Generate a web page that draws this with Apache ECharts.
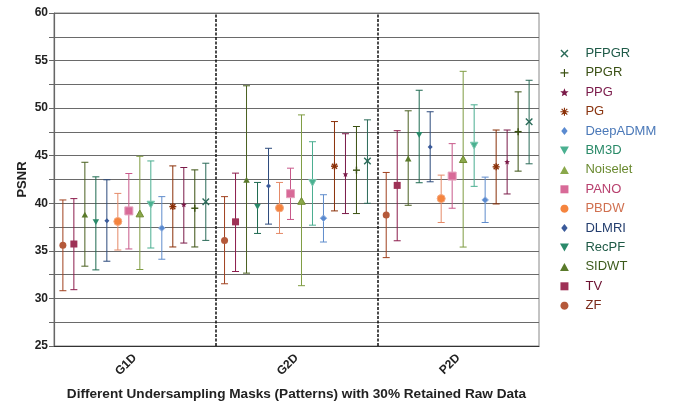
<!DOCTYPE html>
<html><head><meta charset="utf-8">
<script src="https://cdn.jsdelivr.net/npm/echarts@6/dist/echarts.min.js"></script>
<style>html,body{margin:0;padding:0;background:#fff}#c{width:675px;height:402px}</style>
</head><body><div id="c"></div>
<script>
// ---------- DATA ----------
const categories = ['G1D', 'G2D', 'P2D'];
const methods = ['ZF','TV','SIDWT','RecPF','DLMRI','PBDW','PANO','Noiselet','BM3D','DeepADMM','PG','PPG','PPGR','PFPGR'];
const legendOrder = ['PFPGR','PPGR','PPG','PG','DeepADMM','BM3D','Noiselet','PANO','PBDW','DLMRI','RecPF','SIDWT','TV','ZF'];
const yTicks = [25, 30, 35, 40, 45, 50, 55, 60];

const g1dMean = [35.58,35.72,38.78,38.05,38.16,38.09,39.20,38.89,39.90,37.39,39.65,39.83,39.48,40.17];
const g1dLow  = [30.81,30.92,33.39,33.00,33.91,35.09,35.20,33.04,35.30,34.12,35.41,35.82,35.41,36.10];
const g1dHigh = [40.35,40.49,44.31,42.78,42.47,41.04,43.13,44.94,44.45,40.70,43.93,43.76,43.51,44.21];

const g2dMean = [36.10,38.05,42.44,39.65,41.81,39.51,41.01,40.21,42.19,38.43,43.90,43.03,43.48,44.45];
const g2dLow  = [31.54,32.83,32.66,36.83,37.81,36.83,38.30,31.34,37.70,35.93,39.20,38.92,38.92,40.00];
const g2dHigh = [40.70,43.17,52.35,42.19,45.78,42.19,43.69,49.29,46.47,40.90,48.59,47.31,48.07,48.77];

const p2dMean = [38.78,41.88,44.67,47.21,45.92,40.49,42.86,44.60,46.10,40.35,43.83,44.32,47.53,48.57];
const p2dLow  = [34.29,36.06,39.79,42.16,42.26,37.98,39.48,35.40,41.78,37.98,39.93,40.98,43.38,44.15];
const p2dHigh = [43.24,47.63,49.72,51.88,49.62,42.96,46.27,53.87,50.35,42.75,47.70,47.70,51.71,52.93];

// ---------- STYLE ----------
const lineColors   = ['#a0401e','#8c1c4c','#4a6020','#1e6a50','#2c4a7c','#e58a68','#c8588a','#7f9c42','#4aae90','#5f8ccc','#8a3008','#7a1a48','#3a5010','#2a6a58'];
const markerColors = ['#b5593a','#9e3156','#5a7a2a','#2a8a6a','#3a5a9a','#f5843e','#d86a98','#8aa84a','#4ab090','#5a8ad0','#8a3008','#7a1a48','#3a5010','#2a6a58'];
const markerBorder = [null,null,null,null,null,'#f4a880','#e4a0bc','#6f8a30','#7cc8b0','#8fb0e0',null,null,null,null];
const textColors   = ['#7a2a1a','#6b1030','#3c5a1c','#1f5a46','#243e6e','#d07050','#b8406e','#6a8a30','#2a8a68','#4a78b8','#8a3510','#7a1a4a','#3a5014','#1f5a48'];
const shapes = ['circle','square','triUp','triDown','diamond','circle','square','triUp','triDown','diamond','asterisk','star','plus','cross'];
const sizes  = [7,7,6.5,6.5,5,8,8,7.5,7.5,6.5,7,6,7,6.5];

const meanArr = [g1dMean, g2dMean, p2dMean];
const lowArr  = [g1dLow, g2dLow, p2dLow];
const highArr = [g1dHigh, g2dHigh, p2dHigh];

function starPts(cx, cy, R, r) {
  const p = [];
  for (let k = 0; k < 10; k++) {
    const a = -Math.PI / 2 + k * Math.PI / 5;
    const rr = k % 2 ? r : R;
    p.push([cx + rr * Math.cos(a), cy + rr * Math.sin(a)]);
  }
  return p;
}

function markerEls(shape, x, y, s, fill, stroke) {
  const h = s / 2;
  const st = { fill: fill, stroke: stroke || fill, lineWidth: stroke ? 1 : 0 };
  const ls = { stroke: fill, lineWidth: 1.4 };
  switch (shape) {
    case 'circle': return [{ type: 'circle', shape: { cx: x, cy: y, r: h }, style: st }];
    case 'square': return [{ type: 'rect', shape: { x: x - h, y: y - h, width: s, height: s }, style: st }];
    case 'triUp': return [{ type: 'polygon', shape: { points: [[x, y - h], [x + h, y + h * 0.8], [x - h, y + h * 0.8]] }, style: st }];
    case 'triDown': return [{ type: 'polygon', shape: { points: [[x - h, y - h * 0.8], [x + h, y - h * 0.8], [x, y + h]] }, style: st }];
    case 'diamond': return [{ type: 'polygon', shape: { points: [[x, y - h], [x + h, y], [x, y + h], [x - h, y]] }, style: st }];
    case 'star': return [{ type: 'polygon', shape: { points: starPts(x, y, h, h * 0.45) }, style: st }];
    case 'plus': return [
      { type: 'line', shape: { x1: x - h, y1: y, x2: x + h, y2: y }, style: ls },
      { type: 'line', shape: { x1: x, y1: y - h, x2: x, y2: y + h }, style: ls }];
    case 'cross': return [
      { type: 'line', shape: { x1: x - h, y1: y - h, x2: x + h, y2: y + h }, style: ls },
      { type: 'line', shape: { x1: x - h, y1: y + h, x2: x + h, y2: y - h }, style: ls }];
    case 'asterisk': {
      const d = h * 0.72;
      return [
        { type: 'line', shape: { x1: x - h, y1: y, x2: x + h, y2: y }, style: ls },
        { type: 'line', shape: { x1: x, y1: y - h, x2: x, y2: y + h }, style: ls },
        { type: 'line', shape: { x1: x - d, y1: y - d, x2: x + d, y2: y + d }, style: ls },
        { type: 'line', shape: { x1: x - d, y1: y + d, x2: x + d, y2: y - d }, style: ls }];
    }
  }
  return [];
}

// legend icon paths (filled polygons, aspect kept)
function polyPath(pts) { return pts.map((p, k) => (k ? 'L' : 'M') + p[0].toFixed(2) + ',' + p[1].toFixed(2)).join('') + 'Z'; }
function rot(pts, a) { return pts.map(p => { const dx = p[0] - 5, dy = p[1] - 5; return [5 + dx * Math.cos(a) - dy * Math.sin(a), 5 + dx * Math.sin(a) + dy * Math.cos(a)]; }); }
const plusPts = [[4.3,0],[5.7,0],[5.7,4.3],[10,4.3],[10,5.7],[5.7,5.7],[5.7,10],[4.3,10],[4.3,5.7],[0,5.7],[0,4.3],[4.3,4.3]];
const circlePts = []; for (let k = 0; k < 32; k++) { const a = k * Math.PI / 16; circlePts.push([5 + 5 * Math.cos(a), 5 + 5 * Math.sin(a)]); }
const iconPaths = {
  circle: 'path://' + polyPath(circlePts),
  square: 'path://M0,0L10,0L10,10L0,10Z',
  triUp: 'path://M5,0L10,9L0,9Z',
  triDown: 'path://M0,0L10,0L5,9Z',
  diamond: 'path://M5,0L9,5L5,10L1,5Z',
  star: 'path://' + polyPath(starPts(5, 5, 5, 2.2)),
  plus: 'path://' + polyPath(plusPts),
  cross: 'path://' + polyPath(rot(plusPts, Math.PI / 4)),
  asterisk: 'path://' + polyPath(plusPts) + polyPath(rot(plusPts, Math.PI / 4))
};

const series = methods.map((name, i) => ({
  name: name,
  type: 'custom',
  xAxisIndex: 0,
  yAxisIndex: 0,
  itemStyle: { color: markerColors[i] },
  encode: { x: 0, y: [1, 2, 3] },
  data: categories.map((c, k) => [k, meanArr[k][i], lowArr[k][i], highArr[k][i]]),
  z: 10 + i,
  renderItem: function (params, api) {
    const cat = api.value(0);
    const pm = api.coord([cat, api.value(1)]);
    const pl = api.coord([cat, api.value(2)]);
    const ph = api.coord([cat, api.value(3)]);
    const band = api.size([1, 0])[0];
    const x = pm[0] + (i - 6.5) * band * 0.068 - 0.5;
    const cw = 3.5;
    const lc = lineColors[i];
    const ls = { stroke: lc, lineWidth: 1 };
    const children = [
      { type: 'line', shape: { x1: x, y1: pl[1], x2: x, y2: ph[1] }, style: ls },
      { type: 'line', shape: { x1: x - cw, y1: pl[1], x2: x + cw, y2: pl[1] }, style: ls },
      { type: 'line', shape: { x1: x - cw, y1: ph[1], x2: x + cw, y2: ph[1] }, style: ls }
    ].concat(markerEls(shapes[i], x, pm[1], sizes[i], markerColors[i], markerBorder[i]));
    return { type: 'group', children: children };
  }
}));

series.push({
  name: 'dividers',
  type: 'line',
  xAxisIndex: 1,
  yAxisIndex: 0,
  data: [],
  silent: true,
  markLine: {
    silent: true,
    symbol: 'none',
    label: { show: false },
    lineStyle: { color: '#111', type: [3, 1.5], width: 1.5 },
    data: [{ xAxis: 1 }, { xAxis: 2 }]
  }
});

const legendData = legendOrder.map(n => {
  const i = methods.indexOf(n);
  return { name: n, icon: iconPaths[shapes[i]], itemStyle: { color: markerColors[i] }, textStyle: { color: textColors[i] } };
});

const chart = echarts.init(document.getElementById('c'), null, { renderer: 'canvas' });
chart.setOption({
  animation: false,
  backgroundColor: '#fff',
  grid: { left: 54, right: 136, top: 13, bottom: 56, show: true, borderColor: '#888', borderWidth: 1, outerBoundsMode: 'none', containLabel: false },
  legend: {
    orient: 'vertical', left: 555, top: 42,
    itemWidth: 30, itemHeight: 8, itemGap: 6.4,
    textStyle: { fontSize: 13, fontFamily: 'Arial, Liberation Sans, sans-serif', padding: [0, 0, 0, 1] },
    data: legendData
  },
  xAxis: [{
    type: 'category',
    data: categories,
    name: 'Different Undersampling Masks (Patterns) with 30% Retained Raw Data',
    nameLocation: 'middle', nameGap: 41, nameMoveOverlap: false,
    nameTextStyle: { fontWeight: 'bold', fontSize: 13.6, color: '#222', fontFamily: 'Arial, Liberation Sans, sans-serif' },
    axisLine: { lineStyle: { color: '#333', width: 1.2 } },
    axisTick: { alignWithLabel: true, length: 5, lineStyle: { color: '#333' } },
    axisLabel: { rotate: 45, fontWeight: 'bold', fontSize: 12, color: '#222', margin: 10, fontFamily: 'Arial, Liberation Sans, sans-serif' },
    splitLine: { show: false }
  }, {
    type: 'value', min: 0, max: 3, show: false
  }],
  yAxis: {
    type: 'value', min: 25, max: 60, interval: 2.5,
    name: 'PSNR', nameLocation: 'middle', nameGap: 25, nameMoveOverlap: false,
    nameTextStyle: { fontWeight: 'bold', fontSize: 13, color: '#222', fontFamily: 'Arial, Liberation Sans, sans-serif' },
    axisLine: { show: true, lineStyle: { color: '#666', width: 1.2 } },
    axisTick: { show: true, length: 5, lineStyle: { color: '#666' } },
    axisLabel: {
      fontWeight: 'bold', fontSize: 12, color: '#222', margin: 6, fontFamily: 'Arial, Liberation Sans, sans-serif',
      formatter: v => (yTicks.indexOf(v) >= 0 ? String(v) : '')
    },
    splitLine: { show: true, lineStyle: { color: '#6a6a6a', width: 1 } }
  },
  series: series
});
</script>
</body></html>
